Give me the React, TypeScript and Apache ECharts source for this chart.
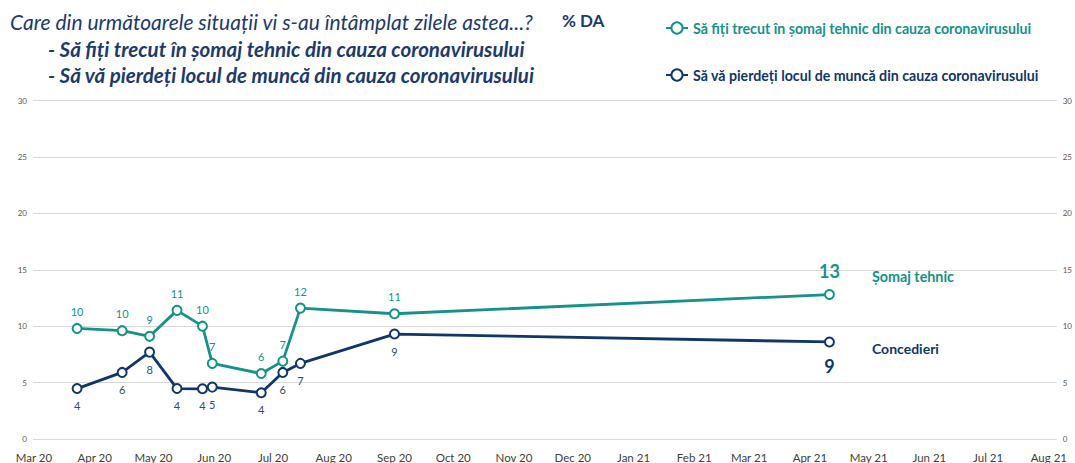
import React, { useEffect, useRef } from "react";
import * as echarts from "echarts";

const TEAL = "#15928A";
const NAVY = "#11366A";
const TITLE = "#1C3A6C";
const FONT = "Lato";

const legendNames = [
  "Să fiți trecut în șomaj tehnic din cauza coronavirusului",
  "Să vă pierdeți locul de muncă din cauza coronavirusului",
];
const seriesShort = ["Șomaj tehnic", "Concedieri"];

const surveyDates = [
  "2020-03-23",
  "2020-04-15",
  "2020-04-29",
  "2020-05-13",
  "2020-05-26",
  "2020-05-31",
  "2020-06-25",
  "2020-07-06",
  "2020-07-15",
  "2020-09-01",
  "2021-04-11",
];
const somajTehnic = [9.8, 9.6, 9.1, 11.4, 10.0, 6.7, 5.8, 6.9, 11.6, 11.1, 12.8];
const concedieri = [4.47, 5.9, 7.7, 4.47, 4.45, 4.6, 4.1, 5.9, 6.7, 9.3, 8.6];

const monthTicks = [
  "2020-03-01", "2020-04-01", "2020-05-01", "2020-06-01", "2020-07-01", "2020-08-01",
  "2020-09-01", "2020-10-01", "2020-11-01", "2020-12-01", "2021-01-01", "2021-02-01",
  "2021-03-01", "2021-04-01", "2021-05-01", "2021-06-01", "2021-07-01", "2021-08-01",
];
const monthLabels = [
  "Mar 20", "Apr 20", "May 20", "Jun 20", "Jul 20", "Aug 20", "Sep 20", "Oct 20", "Nov 20",
  "Dec 20", "Jan 21", "Feb 21", "Mar 21", "Apr 21", "May 21", "Jun 21", "Jul 21", "Aug 21",
];
const yTicks = [0, 5, 10, 15, 20, 25, 30];

const ts = (d: string) => {
  const [y, m, dd] = d.split("-").map(Number);
  return Date.UTC(y, m - 1, dd);
};

export default function App() {
  const ref = useRef<HTMLDivElement>(null);
  useEffect(() => {
    if (!ref.current) return;
    const chart = echarts.init(ref.current, undefined, { renderer: "svg" });
    const tickTs = monthTicks.map(ts);

    const buildData = (vals: number[], big: any) =>
      surveyDates.map((d, i) => {
        const item: any = { value: [ts(d), vals[i]] };
        if (i === vals.length - 1) item.label = big;
        return item;
      });

    const smallLabel = (color: string, position: string) => ({
      show: true,
      position,
      distance: 6,
      fontFamily: FONT,
      fontSize: 11,
      color,
      formatter: (p: any) => String(Math.round(p.value[1])),
    });

    const yAxisBase = {
      type: "value",
      min: yTicks[0],
      max: yTicks[yTicks.length - 1],
      interval: 5,
      axisLine: { show: false },
      axisTick: { show: false },
      axisLabel: { fontFamily: FONT, fontSize: 8, color: "#595959", margin: 6 },
    };

    chart.setOption({
      animation: false,
      grid: { left: 33, right: 16, top: 100.5, bottom: 21.5 },
      legend: {
        orient: "vertical",
        left: 665,
        top: 21,
        padding: 0,
        itemGap: 33,
        itemWidth: 22,
        itemHeight: 14,
        textStyle: { fontFamily: FONT, fontSize: 14.2, fontWeight: "bold" },
        data: [
          { name: legendNames[0], textStyle: { color: TEAL } },
          { name: legendNames[1], textStyle: { color: NAVY } },
        ],
      },
      xAxis: {
        type: "value",
        min: Date.UTC(2020, 1, 29, 12),
        max: Date.UTC(2021, 7, 5),
        axisLine: { show: false },
        axisTick: { show: false },
        splitLine: { show: false },
        axisLabel: {
          customValues: tickTs,
          fontFamily: FONT,
          fontSize: 11.5,
          color: "#404040",
          margin: 12,
          hideOverlap: false,
          formatter: (v: number) => {
            const idx = tickTs.indexOf(v);
            return idx >= 0 ? monthLabels[idx] : "";
          },
        },
      },
      yAxis: [
        { ...yAxisBase, position: "left", splitLine: { lineStyle: { color: "#D9D9D9", width: 1 } } },
        { ...yAxisBase, position: "right", splitLine: { show: false } },
      ],
      series: [
        {
          type: "line",
          name: legendNames[0],
          data: buildData(somajTehnic, {
            show: true,
            position: "top",
            distance: 9,
            fontFamily: FONT,
            fontSize: 18,
            fontWeight: "bold",
            color: TEAL,
          }),
          symbol: "emptyCircle",
          symbolSize: 9,
          lineStyle: { width: 2.8, color: TEAL },
          itemStyle: { color: TEAL, borderWidth: 1.2 },
          label: smallLabel(TEAL, "top"),
        },
        {
          type: "line",
          name: legendNames[1],
          data: buildData(concedieri, {
            show: true,
            position: "bottom",
            distance: 10,
            fontFamily: FONT,
            fontSize: 18,
            fontWeight: "bold",
            color: NAVY,
          }),
          symbol: "emptyCircle",
          symbolSize: 9,
          lineStyle: { width: 2.8, color: NAVY },
          itemStyle: { color: NAVY, borderWidth: 1.2 },
          label: smallLabel("#2E4C7C", "bottom"),
        },
      ],
      graphic: [
        {
          type: "text",
          left: 10,
          top: 11,
          style: {
            text: "Care din următoarele situații vi s-au întâmplat zilele astea...?",
            fontFamily: FONT,
            fontSize: 21,
            fontStyle: "italic",
            fill: TITLE,
          },
        },
        {
          type: "text",
          left: 562,
          top: 12,
          style: { text: "% DA", fontFamily: FONT, fontSize: 17, fontWeight: "bold", fill: TITLE },
        },
        {
          type: "text",
          left: 48,
          top: 38.5,
          style: {
            text: "- " + legendNames[0],
            fontFamily: FONT,
            fontSize: 20.5,
            fontStyle: "italic",
            fontWeight: "bold",
            fill: TITLE,
          },
        },
        {
          type: "text",
          left: 48,
          top: 64.5,
          style: {
            text: "- " + legendNames[1],
            fontFamily: FONT,
            fontSize: 20.5,
            fontStyle: "italic",
            fontWeight: "bold",
            fill: TITLE,
          },
        },
        {
          type: "text",
          left: 872,
          top: 269,
          style: { text: seriesShort[0], fontFamily: FONT, fontSize: 14.3, fontWeight: "bold", fill: TEAL },
        },
        {
          type: "text",
          left: 872,
          top: 341,
          style: { text: seriesShort[1], fontFamily: FONT, fontSize: 14, fontWeight: "bold", fill: NAVY },
        },
      ],
    });
    return () => chart.dispose();
  }, []);

  return (
    <div
      ref={ref}
      style={{ position: "fixed", left: 0, top: 0, width: 1075, height: 463, background: "#fff" }}
    />
  );
}
